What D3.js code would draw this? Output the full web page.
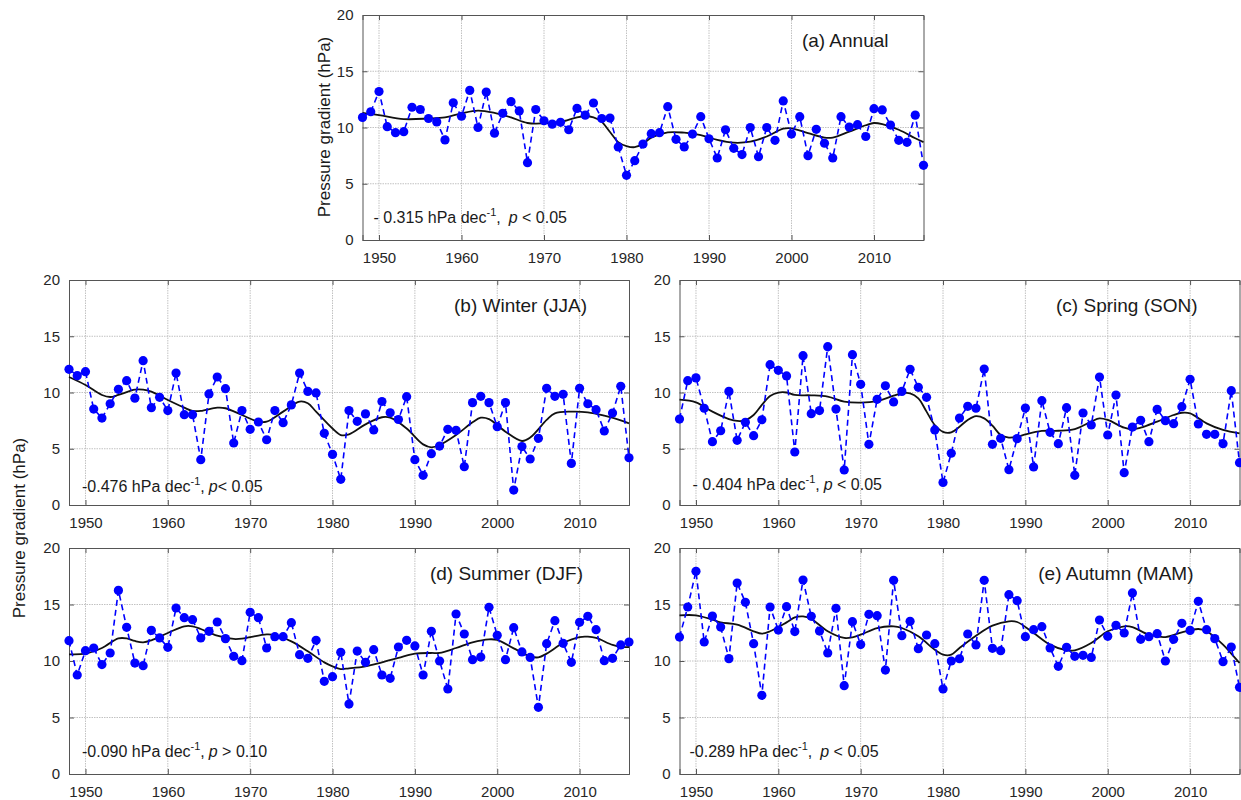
<!DOCTYPE html>
<html lang="en">
<head>
  <meta charset="UTF-8">
  <title>Pressure gradient time series</title>
  <script src="https://d3js.org/d3.v7.min.js"></script>
  <style>
    body { margin: 0; background: #fff; }
    svg { font-family: Arial, "Liberation Sans", sans-serif; }
  </style>
</head>
<body>
  <div id="chart"></div>
  <script>
    // ---- data ----
    const years = d3.range(1948, 2017);
    const xTicks = [1950, 1960, 1970, 1980, 1990, 2000, 2010];
    const yTicks = [0, 5, 10, 15, 20];

    const annual = [10.9, 11.4, 13.2, 10.07, 9.54, 9.63, 11.8, 11.6, 10.8, 10.5, 8.9, 12.2, 11.0, 13.3, 10.0, 13.15, 9.5, 11.26, 12.3, 11.47, 6.87, 11.6, 10.6, 10.3, 10.46, 9.8, 11.7, 11.1, 12.18, 10.8, 10.84, 8.27, 5.75, 7.05, 8.53, 9.45, 9.54, 11.85, 8.95, 8.27, 9.42, 10.96, 9.0, 7.29, 9.8, 8.15, 7.59, 10.0, 7.4, 10.0, 8.86, 12.36, 9.42, 10.96, 7.5, 9.84, 8.6, 7.29, 10.96, 10.04, 10.25, 9.2, 11.67, 11.56, 10.22, 8.86, 8.68, 11.1, 6.64];
    const winter = [12.06, 11.5, 11.85, 8.53, 7.73, 9.0, 10.28, 11.05, 9.5, 12.83, 8.65, 9.57, 8.39, 11.73, 8.03, 8.03, 4.03, 9.87, 11.38, 10.34, 5.51, 8.39, 6.73, 7.38, 5.8, 8.39, 7.32, 8.9, 11.73, 10.1, 9.96, 6.37, 4.5, 2.28, 8.39, 7.44, 8.1, 6.67, 9.2, 8.2, 7.6, 9.63, 4.03, 2.64, 4.56, 5.24, 6.73, 6.64, 3.4, 9.1, 9.66, 9.1, 6.96, 9.1, 1.33, 5.19, 4.09, 5.93, 10.37, 9.66, 9.84, 3.7, 10.37, 9.0, 8.47, 6.58, 8.18, 10.55, 4.2];
    const spring = [7.64, 11.05, 11.3, 8.6, 5.63, 6.6, 10.1, 5.75, 7.35, 6.16, 7.58, 12.47, 11.97, 11.47, 4.71, 13.27, 8.12, 8.39, 14.07, 8.53, 3.11, 13.36, 10.73, 5.39, 9.39, 10.6, 9.16, 10.1, 12.06, 10.46, 9.57, 6.67, 2.0, 4.6, 7.73, 8.77, 8.6, 12.09, 5.39, 5.93, 3.14, 5.9, 8.62, 3.38, 9.27, 6.46, 5.45, 8.65, 2.64, 8.18, 7.11, 11.38, 6.22, 9.78, 2.87, 6.93, 7.53, 5.63, 8.5, 7.5, 7.23, 8.74, 11.17, 7.2, 6.28, 6.28, 5.45, 10.16, 3.76];
    const summer = [11.8, 8.76, 10.91, 11.15, 9.68, 10.71, 16.25, 12.98, 9.82, 9.59, 12.71, 12.04, 11.21, 14.69, 13.83, 13.66, 12.04, 12.63, 13.45, 11.98, 10.41, 10.03, 14.31, 13.83, 11.15, 12.15, 12.15, 13.39, 10.56, 10.24, 11.83, 8.2, 8.61, 10.77, 6.19, 10.88, 9.88, 11.0, 8.76, 8.47, 11.24, 11.83, 11.33, 8.76, 12.63, 10.0, 7.52, 14.16, 12.39, 10.12, 10.35, 14.75, 12.27, 10.12, 12.95, 10.8, 10.32, 5.9, 11.53, 13.57, 11.56, 9.88, 13.42, 13.95, 12.77, 10.03, 10.24, 11.42, 11.68];
    const autumn = [12.12, 14.78, 17.94, 11.68, 13.98, 13.0, 10.21, 16.9, 15.19, 11.53, 6.96, 14.78, 12.74, 14.81, 12.6, 17.17, 13.95, 12.65, 10.71, 14.66, 7.82, 13.48, 11.45, 14.13, 14.01, 9.2, 17.14, 12.24, 13.51, 11.09, 12.3, 11.53, 7.52, 10.0, 10.2, 12.39, 11.42, 17.14, 11.12, 10.91, 15.87, 15.34, 12.15, 12.77, 13.04, 11.15, 9.53, 11.21, 10.41, 10.5, 10.32, 13.63, 12.18, 13.16, 12.48, 16.02, 11.92, 12.15, 12.42, 10.0, 11.92, 13.33, 12.71, 15.28, 12.77, 11.98, 9.94, 11.24, 7.67];

    // low-pass curves, [year, value] knots
    const smoothAnnual = [[1948,11.3],[1950,11.1],[1953,10.75],[1956,10.8],[1958,10.9],[1960,11.26],[1962,11.5],[1964,11.3],[1966,10.9],[1968,10.4],[1970,10.37],[1972,10.5],[1974,10.9],[1975,11.0],[1976,10.9],[1977,10.5],[1978,9.6],[1979,8.7],[1980,8.35],[1981,8.25],[1982,8.55],[1983,9.1],[1985,9.57],[1987,9.54],[1989,9.33],[1991,8.9],[1993,8.65],[1995,8.74],[1997,9.2],[1999,9.9],[2000,9.93],[2002,9.5],[2004,9.1],[2005,9.1],[2007,9.63],[2009,10.2],[2010,10.4],[2011,10.3],[2013,9.8],[2015,9.04],[2016,8.7]];
    const smoothWinter = [[1948,11.38],[1950,10.67],[1952,9.78],[1953,9.6],[1954,9.78],[1956,10.25],[1957,10.25],[1958,10.07],[1960,9.33],[1962,8.65],[1963,8.36],[1964,8.36],[1966,8.65],[1967,8.6],[1969,8.0],[1971,7.41],[1972,7.41],[1974,8.3],[1976,9.19],[1977,9.04],[1978,8.3],[1980,6.8],[1981,6.22],[1982,6.28],[1984,7.17],[1986,7.8],[1987,7.76],[1989,6.8],[1991,5.39],[1992,5.13],[1993,5.33],[1995,6.22],[1997,7.35],[1998,7.76],[1999,7.64],[2001,6.52],[2003,5.69],[2004,5.99],[2006,7.56],[2007,8.15],[2009,8.3],[2011,8.24],[2013,7.94],[2015,7.53],[2016,7.26]];
    const smoothSpring = [[1948,9.36],[1950,9.13],[1952,8.3],[1954,7.64],[1955,7.47],[1956,7.53],[1957,8.0],[1958,8.9],[1959,9.69],[1960,9.99],[1961,10.0],[1962,9.78],[1964,9.75],[1966,9.63],[1968,9.19],[1970,9.1],[1972,9.24],[1974,9.72],[1975,9.93],[1976,9.93],[1977,9.48],[1978,8.3],[1979,7.11],[1980,6.5],[1981,6.46],[1982,6.96],[1983,7.56],[1984,7.9],[1985,7.7],[1986,7.05],[1987,6.22],[1988,5.99],[1989,6.07],[1990,6.28],[1992,6.58],[1994,6.6],[1996,6.75],[1998,7.41],[1999,7.7],[2000,7.56],[2002,6.87],[2003,6.73],[2004,6.87],[2006,7.41],[2008,8.0],[2009,8.2],[2010,8.15],[2012,7.26],[2014,6.67],[2016,6.37]];
    const smoothSummer = [[1948,10.59],[1950,10.65],[1952,11.15],[1954,12.0],[1955,12.0],[1956,11.77],[1957,11.65],[1958,11.83],[1960,12.48],[1962,13.07],[1963,13.07],[1964,12.83],[1966,12.24],[1968,11.95],[1969,11.98],[1970,12.12],[1972,12.36],[1973,12.3],[1975,11.74],[1977,10.86],[1979,9.88],[1980,9.53],[1981,9.29],[1982,9.35],[1984,9.53],[1986,9.88],[1988,10.27],[1990,10.65],[1992,10.71],[1993,10.71],[1995,11.15],[1997,11.65],[1999,11.92],[2000,11.86],[2002,11.12],[2004,10.41],[2005,10.32],[2006,10.65],[2008,11.59],[2010,12.12],[2011,12.15],[2012,12.04],[2014,11.42],[2015,11.24],[2016,11.24]];
    const smoothAutumn = [[1948,14.04],[1950,14.04],[1952,13.66],[1953,13.42],[1955,13.22],[1957,12.63],[1958,12.42],[1959,12.63],[1961,13.42],[1962,13.86],[1963,13.95],[1964,13.72],[1966,12.63],[1968,12.04],[1969,12.09],[1970,12.33],[1972,12.92],[1974,13.07],[1975,12.92],[1977,12.18],[1979,11.0],[1980,10.56],[1981,10.56],[1982,11.15],[1984,12.24],[1986,13.13],[1988,13.51],[1989,13.45],[1991,12.48],[1993,11.45],[1995,10.94],[1996,10.94],[1998,11.59],[2000,12.63],[2002,13.07],[2003,13.0],[2005,12.33],[2007,12.12],[2009,12.54],[2011,12.83],[2012,12.63],[2014,11.45],[2015,10.65],[2016,9.82]];

    const titles = ["(a) Annual", "(b) Winter (JJA)", "(c) Spring (SON)", "(d) Summer (DJF)", "(e) Autumn (MAM)"];
    const trendSlopes = ["- 0.315", "-0.476", "- 0.404", "-0.090", "-0.289"];
    const trendP = [" < 0.05", "< 0.05", " < 0.05", " > 0.10", " < 0.05"];
    const yLabel = "Pressure gradient (hPa)";

    const series = [annual, winter, spring, summer, autumn];
    const smooths = [smoothAnnual, smoothWinter, smoothSpring, smoothSummer, smoothAutumn];

    // ---- layout ----
    const layout = [
      { left: 362.5, top: 15,  width: 561, height: 225, titleRight: 35, noteLeft: 11, noteBottom: 17, commaGap: 8 },
      { left: 69,    top: 280, width: 560, height: 225, titleRight: 42, noteLeft: 13, noteBottom: 13, commaGap: 4 },
      { left: 679.5, top: 280, width: 560, height: 225, titleRight: 42, noteLeft: 13, noteBottom: 15, commaGap: 4 },
      { left: 69,    top: 548, width: 560, height: 226, titleRight: 46, noteLeft: 13, noteBottom: 17, commaGap: 4 },
      { left: 679.5, top: 548, width: 560, height: 226, titleRight: 46, noteLeft: 10, noteBottom: 17, commaGap: 8 }
    ];

    const svg = d3.select("#chart")
      .append("svg")
      .attr("width", 1241)
      .attr("height", 800);

    layout.forEach((box, i) => {
      const x = d3.scaleLinear().domain([1948, 2016]).range([0, box.width]);
      const y = d3.scaleLinear().domain([0, 20]).range([box.height, 0]);

      const g = svg.append("g")
        .attr("transform", `translate(${box.left},${box.top})`);

      // grid (MATLAB-like dotted gray)
      g.append("g")
        .selectAll("line.vgrid")
        .data(xTicks)
        .join("line")
        .attr("x1", d => x(d)).attr("x2", d => x(d))
        .attr("y1", 0).attr("y2", box.height)
        .attr("stroke", "#c2c2c2")
        .attr("stroke-width", 1)
        .attr("stroke-dasharray", "1.5,1");

      g.append("g")
        .selectAll("line.hgrid")
        .data(yTicks.slice(1, -1))
        .join("line")
        .attr("x1", 0).attr("x2", box.width)
        .attr("y1", d => y(d)).attr("y2", d => y(d))
        .attr("stroke", "#c2c2c2")
        .attr("stroke-width", 1)
        .attr("stroke-dasharray", "1.5,1");

      // axes with inward ticks
      const xAxis = g.append("g")
        .attr("transform", `translate(0,${box.height})`)
        .call(d3.axisBottom(x).tickValues(xTicks).tickFormat(d3.format("d")).tickSize(-5).tickPadding(12));
      const yAxis = g.append("g")
        .call(d3.axisLeft(y).tickValues(yTicks).tickSize(-5).tickPadding(9));
      g.append("g")
        .call(d3.axisTop(x).tickValues(xTicks).tickFormat("").tickSize(-5));
      g.append("g")
        .attr("transform", `translate(${box.width},0)`)
        .call(d3.axisRight(y).tickValues(yTicks).tickFormat("").tickSize(-5));

      g.selectAll(".domain").attr("stroke", "#555");
      g.selectAll(".tick line").attr("stroke", "#555");
      [xAxis, yAxis].forEach(a => a.selectAll("text")
        .attr("font-size", 15)
        .attr("fill", "#262626")
        .attr("font-family", "Arial, 'Liberation Sans', sans-serif"));

      // smoothed curve
      const smoothLine = d3.line()
        .x(d => x(d[0]))
        .y(d => y(d[1]))
        .curve(d3.curveCatmullRom.alpha(0.5));
      g.append("path")
        .datum(smooths[i])
        .attr("fill", "none")
        .attr("stroke", "#111")
        .attr("stroke-width", 1.8)
        .attr("d", smoothLine);

      // annual values: dashed line + dots
      const pts = years.map((yr, k) => [yr, series[i][k]]);
      const dashLine = d3.line()
        .x(d => x(d[0]))
        .y(d => y(d[1]));
      g.append("path")
        .datum(pts)
        .attr("fill", "none")
        .attr("stroke", "#0000ff")
        .attr("stroke-width", 1.6)
        .attr("stroke-dasharray", "6,4")
        .attr("d", dashLine);

      g.append("g")
        .selectAll("circle")
        .data(pts)
        .join("circle")
        .attr("cx", d => x(d[0]))
        .attr("cy", d => y(d[1]))
        .attr("r", 4.6)
        .attr("fill", "#0000ff");

      // panel title
      g.append("text")
        .attr("x", box.width - box.titleRight)
        .attr("y", 32)
        .attr("text-anchor", "end")
        .attr("font-size", 19)
        .attr("fill", "#1a1a1a")
        .text(titles[i]);

      // trend note
      const note = g.append("text")
        .attr("x", box.noteLeft)
        .attr("y", box.height - box.noteBottom)
        .attr("font-size", 16)
        .attr("fill", "#1a1a1a");
      note.append("tspan").text(`${trendSlopes[i]} hPa dec`);
      note.append("tspan").attr("font-size", 11).attr("dy", -7).text("-1");
      note.append("tspan").attr("dy", 7).text(",");
      note.append("tspan").attr("dx", box.commaGap).attr("font-style", "italic").text("p");
      note.append("tspan").text(trendP[i].replace(/^ /, "\u00a0"));
    });

    // y labels
    svg.append("text")
      .attr("transform", "translate(330,127) rotate(-90)")
      .attr("text-anchor", "middle")
      .attr("font-size", 17)
      .attr("fill", "#1a1a1a")
      .text(yLabel);

    svg.append("text")
      .attr("transform", "translate(25,528) rotate(-90)")
      .attr("text-anchor", "middle")
      .attr("font-size", 17)
      .attr("fill", "#1a1a1a")
      .text(yLabel);
  </script>
</body>
</html>
